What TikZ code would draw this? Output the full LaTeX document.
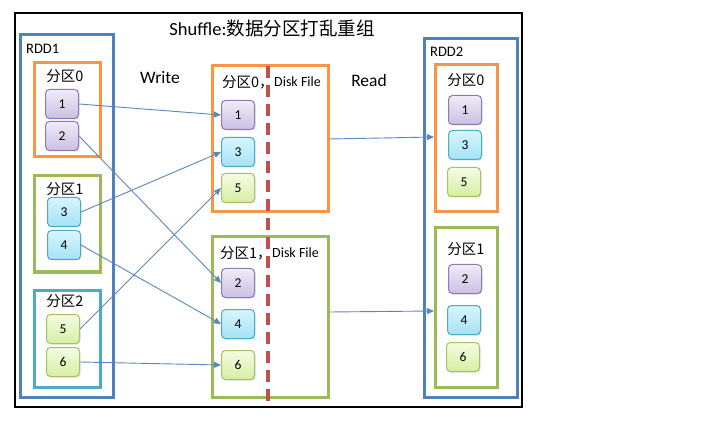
\documentclass[tikz,border=0pt]{standalone}
\usepackage{fontspec}
\setmainfont{Carlito}
\newfontfamily\cjk{Noto Sans CJK SC}
\usetikzlibrary{arrows.meta,shadows}
\definecolor{rddblue}{HTML}{4F81BD}
\definecolor{porange}{HTML}{F79646}
\definecolor{pgreen}{HTML}{9BBB59}
\definecolor{pteal}{HTML}{4BACC6}
\definecolor{dashred}{HTML}{C0504D}
\definecolor{arrowblue}{HTML}{5B87C0}
\definecolor{purB}{HTML}{8C7BB5}
\definecolor{purT}{HTML}{F0ECF8}
\definecolor{purD}{HTML}{CBBFE2}
\definecolor{cyaB}{HTML}{4BACC6}
\definecolor{cyaT}{HTML}{D8F5FD}
\definecolor{cyaD}{HTML}{A3E3F6}
\definecolor{greB}{HTML}{A5C266}
\definecolor{greT}{HTML}{F6FCE4}
\definecolor{greD}{HTML}{D6EEA2}
\begin{document}
\begin{tikzpicture}[x=1pt,y=-1pt,
  frame/.style={draw=black,line width=2.2pt},
  rddbox/.style={draw=rddblue,line width=3pt},
  partbox/.style={line width=3pt},
  cell/.style={rounded corners=4pt,minimum width=33pt,minimum height=29pt,inner sep=0pt,
    font=\fontsize{13.5}{15}\selectfont,line width=1pt,
    drop shadow={shadow xshift=1pt,shadow yshift=-1.2pt,opacity=0.2}},
  purple/.style={cell,draw=purB,top color=purT,bottom color=purD},
  cyanc/.style={cell,draw=cyaB,top color=cyaT,bottom color=cyaD},
  greenc/.style={cell,draw=greB,top color=greT,bottom color=greD},
  lbl/.style={font=\cjk\fontsize{14.5}{16}\selectfont,inner sep=0pt},
  big/.style={font=\fontsize{17.5}{19}\selectfont,inner sep=0pt},
  arr/.style={draw=arrowblue,line width=0.9pt,-{Triangle[length=7pt,width=6pt]}},
]
\useasboundingbox (0,0) rectangle (705,433);
\fill[white] (0,0) rectangle (705,433);
% outer frame
\draw[frame] (15,13) rectangle (522,407);
\node[inner sep=0pt,font=\fontsize{18.5}{20}\selectfont] (title) at (272,28) {Shuffle:{\cjk 数据分区打乱重组}};

% RDD1
\draw[rddbox] (20,35) rectangle (113,397);
\node[anchor=west,font=\fontsize{14.5}{16}\selectfont,inner sep=0pt] (rdd1) at (26,49) {RDD1};
\draw[partbox,draw=porange] (34,63) rectangle (100,157);
\node[lbl] (p0) at (65,76) {分区0};
\node[purple] (a1) at (62,104) {1};
\node[purple] (a2) at (62,136) {2};
\draw[partbox,draw=pgreen] (34,176) rectangle (100,272);
\node[lbl] (p1) at (65,189) {分区1};
\node[cyanc] (a3) at (64,212) {3};
\node[cyanc] (a4) at (64,245) {4};
\draw[partbox,draw=pteal] (34,290) rectangle (100,387);
\node[lbl] (p2) at (65,301) {分区2};
\node[greenc] (a5) at (63,329) {5};
\node[greenc] (a6) at (63,362) {6};

\node[big] (write) at (160,78) {Write};
\node[big] (read) at (369,80) {Read};

% middle
\draw[partbox,draw=porange] (212,66) rectangle (328,212);
\draw[partbox,draw=pgreen] (212,237) rectangle (328,397);
\draw[dashred,line width=3.2pt,dash pattern=on 12pt off 7pt] (268,66) -- (268,405);
\node[lbl,anchor=west] (m0l) at (222,82) {分区0，};
\node[anchor=west,font=\fontsize{14}{16}\selectfont,inner sep=0pt] (m0d) at (274,82) {Disk File};
\node[lbl,anchor=west] (m1l) at (220,253) {分区1，};
\node[anchor=west,font=\fontsize{14}{16}\selectfont,inner sep=0pt] (m1d) at (272,253) {Disk File};
\node[purple] (b1) at (238,115) {1};
\node[cyanc] (b3) at (238,152) {3};
\node[greenc] (b5) at (238,188) {5};
\node[purple] (b2) at (238,283) {2};
\node[cyanc] (b4) at (238,324) {4};
\node[greenc] (b6) at (238,365) {6};

% RDD2
\draw[rddbox] (424,39) rectangle (517,397);
\node[anchor=west,font=\fontsize{14.5}{16}\selectfont,inner sep=0pt] (rdd2) at (430,52) {RDD2};
\draw[partbox,draw=porange] (435,65) rectangle (497,212);
\node[lbl] (r0) at (466,80) {分区0};
\node[purple] (c1) at (465,110) {1};
\node[cyanc] (c3) at (465,145) {3};
\node[greenc] (c5) at (464,182) {5};
\draw[partbox,draw=pgreen] (435,228) rectangle (497,387);
\node[lbl] (r1) at (466,249) {分区1};
\node[purple] (c2) at (465,279) {2};
\node[cyanc] (c4) at (464,320) {4};
\node[greenc] (c6) at (463,357) {6};

\coordinate (m0r) at (329,139);
\coordinate (m1r) at (329,312);
\coordinate (r0l) at (434,137);
\coordinate (r1l) at (434,311);

% arrows
\draw[arr] (a1.east) -- (b1.west);
\draw[arr] (a2.east) -- (b2.west);
\draw[arr] (a3.east) -- (b3.west);
\draw[arr] (a4.east) -- (b4.west);
\draw[arr] (a5.east) -- (b5.west);
\draw[arr] (a6.east) -- (b6.west);
\draw[arr] (m0r) -- (r0l);
\draw[arr] (m1r) -- (r1l);
\end{tikzpicture}
\end{document}
